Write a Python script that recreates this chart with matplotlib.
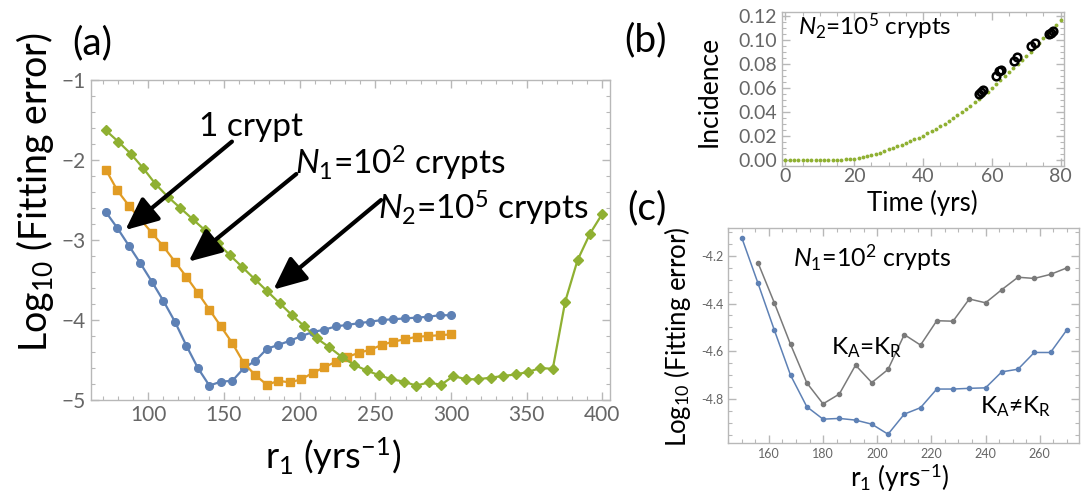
import matplotlib
matplotlib.use("Agg")
import matplotlib.pyplot as plt
from matplotlib.ticker import MultipleLocator, FormatStrFormatter

# Fonts: Lato for everything, DejaVu as a fallback for odd glyphs
plt.rcParams["font.family"] = ["Lato", "DejaVu Sans"]
plt.rcParams["mathtext.fontset"] = "custom"
plt.rcParams["mathtext.rm"] = "Lato"
plt.rcParams["mathtext.it"] = "Lato:italic"
plt.rcParams["mathtext.bf"] = "Lato:bold"

# 0. Data ####################################################################

## (a) fitting error vs r1 for three crypt numbers
r1_small = [72, 79.6, 87.2, 94.8, 102.4, 110, 117.6, 125.2, 132.8, 140.4,
            148, 155.6, 163.2, 170.8, 178.4, 186, 193.6, 201.2, 208.8, 216.4,
            224, 231.6, 239.2, 246.8, 254.4, 262, 269.6, 277.2, 284.8, 292.4,
            300]
err_one_crypt = [-2.65, -2.85, -3.07, -3.29, -3.52, -3.76, -4.02, -4.32, -4.60, -4.82,
                 -4.77, -4.76, -4.60, -4.51, -4.36, -4.31, -4.26, -4.20, -4.15, -4.12,
                 -4.08, -4.06, -4.04, -4.02, -4.00, -3.99, -3.98, -3.97, -3.96, -3.94,
                 -3.94]
err_n1 = [-2.12, -2.38, -2.57, -2.74, -2.91, -3.08, -3.27, -3.46, -3.66, -3.87,
          -4.08, -4.29, -4.54, -4.69, -4.81, -4.76, -4.78, -4.74, -4.66, -4.59,
          -4.52, -4.46, -4.41, -4.37, -4.31, -4.27, -4.24, -4.21, -4.20, -4.19,
          -4.18]

r1_large = [72, 80.2, 88.4, 96.6, 104.8, 113, 121.2, 129.4, 137.6, 145.8,
            154, 162.2, 170.4, 178.6, 186.8, 195, 203.2, 211.4, 219.6, 227.8,
            236, 244.2, 252.4, 260.6, 268.8, 277, 285.2, 293.4, 301.6, 309.8,
            318, 326.2, 334.4, 342.6, 350.8, 359, 367.2, 375.4, 383.6, 391.8,
            400]
err_n2 = [-1.63, -1.77, -1.92, -2.10, -2.30, -2.46, -2.60, -2.74, -2.88, -3.04,
          -3.19, -3.34, -3.49, -3.64, -3.79, -3.94, -4.08, -4.23, -4.34, -4.46,
          -4.56, -4.63, -4.69, -4.74, -4.77, -4.82, -4.78, -4.81, -4.70, -4.74,
          -4.74, -4.72, -4.70, -4.68, -4.65, -4.60, -4.61, -3.77, -3.25, -2.92,
          -2.67]

## (b) incidence curve and observed points
time_yrs = [0, 1.25, 2.5, 3.75, 5, 6.25, 7.5, 8.75, 10, 11.25, 12.5, 13.75,
            15, 16.25, 17.5, 18.75, 20, 21.25, 22.5, 23.75, 25, 26.25, 27.5,
            28.75, 30, 31.25, 32.5, 33.75, 35, 36.25, 37.5, 38.75, 40, 41.25,
            42.5, 43.75, 45, 46.25, 47.5, 48.75, 50, 51.25, 52.5, 53.75, 55,
            56.25, 57.5, 58.75, 60, 61.25, 62.5, 63.75, 65, 66.25, 67.5, 68.75,
            70, 71.25, 72.5, 73.75, 75, 76.25, 77.5, 78.75, 80]
incidence_fit = [0, 0, 0, 0, 0, 0, 0, 0, 0, 0, 0, 0,
                 0, 0, 0.0001, 0.0004, 0.0008, 0.0013, 0.0020, 0.0028, 0.0037,
                 0.0047, 0.0058, 0.0071, 0.0085, 0.0097, 0.0110, 0.0123, 0.0137,
                 0.0152, 0.0167, 0.0183, 0.0200, 0.0218, 0.0237, 0.0257, 0.0278,
                 0.0299, 0.0321, 0.0345, 0.0370, 0.0396, 0.0423, 0.0450, 0.0478,
                 0.0507, 0.0536, 0.0566, 0.0596, 0.0628, 0.0660, 0.0693, 0.0726,
                 0.0760, 0.0794, 0.0829, 0.0864, 0.0900, 0.0936, 0.0973, 0.1010,
                 0.1048, 0.1086, 0.1125, 0.1164]
obs_time = [56.3, 56.8, 57.3, 61.2, 62.2, 62.7, 66.5, 67.4, 71.5, 72.5, 76.7, 77.2, 77.7]
obs_incidence = [0.0545, 0.0562, 0.0580, 0.0700, 0.0740, 0.0748, 0.0818, 0.0851,
                 0.0943, 0.0971, 0.1047, 0.1058, 0.1069]

## (c) fitting error for N1 = 10^2, K_A != K_R vs K_A = K_R
r1_c_blue = [150, 156, 162, 168, 174, 180, 186, 192, 198, 204, 210,
             216, 222, 228, 234, 240, 246, 252, 258, 264, 270]
err_k_diff = [-4.125, -4.316, -4.511, -4.700, -4.832, -4.884, -4.881, -4.888,
              -4.905, -4.947, -4.863, -4.836, -4.758, -4.758, -4.755, -4.753,
              -4.686, -4.675, -4.605, -4.605, -4.511]
r1_c_gray = [156, 162, 168, 174, 180, 186, 192, 198, 204, 210,
             216, 222, 228, 234, 240, 246, 252, 258, 264, 270]
err_k_same = [-4.230, -4.397, -4.571, -4.732, -4.820, -4.779, -4.658, -4.731,
              -4.676, -4.530, -4.574, -4.472, -4.474, -4.381, -4.397, -4.342,
              -4.290, -4.295, -4.278, -4.251]

BLUE, ORANGE, GREEN, GRAY = "#5e81b5", "#e19c24", "#8fb032", "#7a7a7a"


def mma_frame(ax, xmaj, xmin, ymaj, ymin, labelsize):
    """Mathematica-ish frame: light grey box, inward ticks on all sides."""
    for s in ax.spines.values():
        s.set_color("#b8b8b8")
        s.set_linewidth(1.0)
    ax.xaxis.set_major_locator(MultipleLocator(xmaj))
    ax.xaxis.set_minor_locator(MultipleLocator(xmin))
    ax.yaxis.set_major_locator(MultipleLocator(ymaj))
    ax.yaxis.set_minor_locator(MultipleLocator(ymin))
    ax.tick_params(which="both", direction="in", top=True, right=True,
                   color="#b8b8b8", labelcolor="#666666", labelsize=labelsize)
    ax.tick_params(which="major", length=6, width=1)
    ax.tick_params(which="minor", length=3, width=0.8)


def place_labels(ax, xlab, xpos, ylab, ypos, xsize, ysize):
    # axis titles centred on the spots where the reference has them
    ax.set_xlabel(xlab, fontsize=xsize, va="center")
    ax.set_ylabel(ylab, fontsize=ysize, va="center")
    ax.xaxis.set_label_coords(*xpos)
    ax.yaxis.set_label_coords(*ypos)


fig = plt.figure(figsize=(10.86, 4.96), dpi=100)

# 1. Panel (a) ###############################################################

ax_a = fig.add_axes([0.0835, 0.1935, 0.4782, 0.6452])
ax_a.plot(r1_small, err_one_crypt, "-o", color=BLUE, lw=1.6, ms=5.5)
ax_a.plot(r1_small, err_n1, "-s", color=ORANGE, lw=1.6, ms=5.5)
ax_a.plot(r1_large, err_n2, "-D", color=GREEN, lw=1.6, ms=5)
ax_a.set_xlim(62, 405)
ax_a.set_ylim(-5, -1)
mma_frame(ax_a, 50, 10, 1, 0.2, 15)
place_labels(ax_a, "r$_1$ (yrs$^{-1}$)", (0.4666, -0.175),
             "Log$_{10}$ (Fitting error)", (-0.107, 0.65), 26, 27)

arrow = dict(arrowstyle="-|>,head_length=1.0,head_width=0.45", color="black",
             lw=3, mutation_scale=20, shrinkA=0, shrinkB=0)
ax_a.annotate("", xy=(84.9, -2.875), xytext=(155.3, -1.77), arrowprops=arrow)
ax_a.annotate("", xy=(126.7, -3.27), xytext=(197.8, -2.175), arrowprops=arrow)
ax_a.annotate("", xy=(182.7, -3.62), xytext=(253.8, -2.5), arrowprops=arrow)
ax_a.text(133.5, -1.59, "1 crypt", fontsize=24, va="center", ha="left")
ax_a.text(197, -2.04, "$\\it{N}_{\\it{1}}$=10$^{2}$ crypts", fontsize=24,
          va="center", ha="left")
ax_a.text(252, -2.6, "$\\it{N}_{2}$=10$^{5}$ crypts", fontsize=24,
          va="center", ha="left")

# 2. Panel (b) ###############################################################

ax_b = fig.add_axes([0.7201, 0.6663, 0.2597, 0.3095])
ax_b.plot(time_yrs, incidence_fit, "o", color=GREEN, ms=2.8, mew=0)
ax_b.plot(obs_time, obs_incidence, "o", mfc="none", mec="black", mew=1.8, ms=5.5)
ax_b.set_xlim(-1, 81)
ax_b.set_ylim(-0.005, 0.123)
mma_frame(ax_b, 20, 5, 0.02, 0.005, 14)
ax_b.tick_params(axis="x", pad=2)
ax_b.yaxis.set_major_formatter(FormatStrFormatter("%.2f"))
place_labels(ax_b, "Time (yrs)", (0.496, -0.245),
             "Incidence", (-0.259, 0.482), 18.5, 19)
ax_b.text(3.5, 0.111, "$\\it{N}_{2}$=10$^{5}$ crypts", fontsize=17.5,
          va="center", ha="left")

# 3. Panel (c) ###############################################################

ax_c = fig.add_axes([0.6706, 0.1063, 0.3229, 0.4335])
ax_c.plot(r1_c_gray, err_k_same, "-o", color=GRAY, lw=1.1, ms=3)
ax_c.plot(r1_c_blue, err_k_diff, "-o", color=BLUE, lw=1.1, ms=3)
ax_c.set_xlim(145, 274.5)
ax_c.set_ylim(-4.985, -4.085)
mma_frame(ax_c, 20, 5, 0.2, 0.05, 9)
ax_c.yaxis.set_major_formatter(FormatStrFormatter("%.1f"))
place_labels(ax_c, "r$_1$ (yrs$^{-1}$)", (0.49, -0.161),
             "Log$_{10}$ (Fitting error)", (-0.146, 0.497), 19, 18.5)
ax_c.text(169, -4.21, "$\\it{N}_{\\it{1}}$=10$^{2}$ crypts", fontsize=18,
          va="center", ha="left")
ax_c.text(183, -4.585, "K$_\\mathrm{A}$=K$_\\mathrm{R}$", fontsize=17.5,
          va="center", ha="left")
ax_c.text(238, -4.83, "K$_\\mathrm{A}$≠K$_\\mathrm{R}$", fontsize=17.5,
          va="center", ha="left")

# 4. Panel letters ###########################################################

fig.text(0.0847, 0.913, "(a)", fontsize=28, ha="center", va="center")
fig.text(0.5948, 0.919, "(b)", fontsize=28, ha="center", va="center")
fig.text(0.5958, 0.581, "(c)", fontsize=28, ha="center", va="center")

fig.savefig("out.png", dpi=100)
